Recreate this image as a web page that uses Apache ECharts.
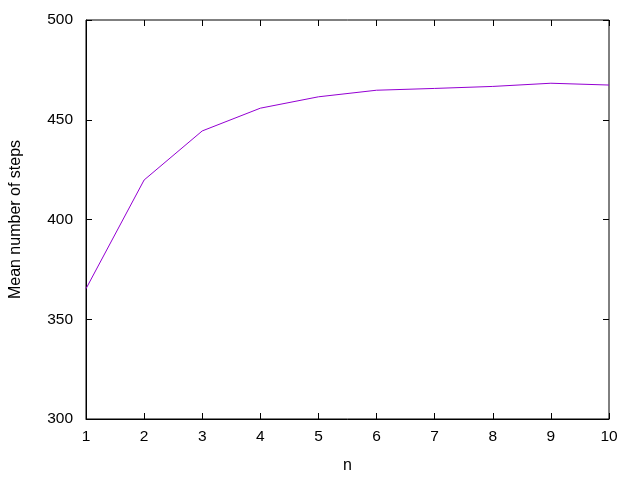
<!DOCTYPE html>
<html>
<head>
<meta charset="utf-8">
<script src="https://cdn.jsdelivr.net/npm/echarts@6/dist/echarts.min.js"></script>
<style>
  html, body { margin: 0; padding: 0; background: #fff; }
  #chart { width: 640px; height: 480px; }
</style>
</head>
<body>
<div id="chart"></div>
<script>
// data
const nValues = [1, 2, 3, 4, 5, 6, 7, 8, 9, 10];
const meanSteps = [365.3, 419.8, 444.4, 455.8, 461.5, 464.8, 465.7, 466.7, 468.3, 467.4];

const chart = echarts.init(document.getElementById('chart'), null, { renderer: 'canvas' });

const font = { fontFamily: 'Liberation Sans, Arial, sans-serif', fontSize: 15.5, color: '#000' };
const tickStyle = { show: true, inside: true, length: 6, lineStyle: { color: '#000', width: 1 } };

chart.setOption({
  animation: false,
  backgroundColor: '#fff',
  grid: { left: 84, right: 31, top: 20, bottom: 61, show: true, borderColor: '#000', borderWidth: 1 },
  xAxis: [
    {
      type: 'value', min: 1, max: 10, interval: 1,
      name: 'n', nameLocation: 'middle', nameGap: 39,
      nameTextStyle: Object.assign({}, font, { fontSize: 16 }),
      axisLine: { show: true, lineStyle: { color: '#000' } },
      axisTick: tickStyle,
      axisLabel: Object.assign({ margin: 10 }, font),
      splitLine: { show: false }
    },
    {
      type: 'value', min: 1, max: 10, interval: 1, position: 'top',
      axisLine: { show: false }, axisTick: tickStyle,
      axisLabel: { show: false }, splitLine: { show: false }
    }
  ],
  yAxis: [
    {
      type: 'value', min: 300, max: 500, interval: 50,
      name: 'Mean number of steps', nameLocation: 'middle', nameGap: 62, nameRotate: 90,
      nameTextStyle: Object.assign({}, font, { fontSize: 16 }),
      axisLine: { show: true, lineStyle: { color: '#000' } },
      axisTick: tickStyle,
      axisLabel: Object.assign({ margin: 13 }, font),
      splitLine: { show: false }
    },
    {
      type: 'value', min: 300, max: 500, interval: 50, position: 'right',
      axisLine: { show: false }, axisTick: tickStyle,
      axisLabel: { show: false }, splitLine: { show: false }
    }
  ],
  series: [{
    type: 'line',
    data: nValues.map((n, i) => [n, meanSteps[i]]),
    showSymbol: false,
    lineStyle: { color: '#9400d3', width: 1 },
    itemStyle: { color: '#9400d3' }
  }]
});
</script>
</body>
</html>
